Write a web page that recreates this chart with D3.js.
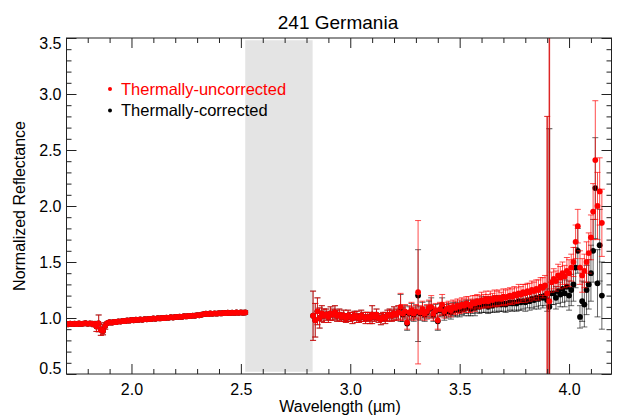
<!DOCTYPE html>
<html><head><meta charset="utf-8">
<script src="https://cdn.jsdelivr.net/npm/d3@7"></script>
<style>
html,body{margin:0;padding:0;background:#fff;}
svg{display:block;font-family:"Liberation Sans",Arial,Helvetica,sans-serif;}
</style></head>
<body>
<svg id="chart" width="619" height="420"></svg>
<script>
// ---------- data ----------
const title = "241 Germania";
const xLabel = "Wavelength (\u00b5m)";
const yLabel = "Normalized Reflectance";
const seriesNames = ["Thermally-uncorrected", "Thermally-corrected"];
const xTicks = [2.0, 2.5, 3.0, 3.5, 4.0];
const xTickLabels = ["2.0", "2.5", "3.0", "3.5", "4.0"];
const xMinor = [1.8,1.9,2.1,2.2,2.3,2.4,2.6,2.7,2.8,2.9,3.1,3.2,3.3,3.4,3.6,3.7,3.8,3.9,4.1];
const yTicks = [0.5, 1.0, 1.5, 2.0, 2.5, 3.0, 3.5];
const yTickLabels = ["0.5", "1.0", "1.5", "2.0", "2.5", "3.0", "3.5"];
const yMinor = [0.6,0.7,0.8,0.9,1.1,1.2,1.3,1.4,1.6,1.7,1.8,1.9,2.1,2.2,2.3,2.4,2.6,2.7,2.8,2.9,3.1,3.2,3.3,3.4];
const gapBand = [2.52, 2.828];

// short-wavelength segment
const wl1 = [1.70,1.71,1.72,1.73,1.74,1.75,1.76,1.77,1.78,1.79,1.80,1.81,1.82,1.83,1.84,1.85,1.86,1.87,1.88,1.89,
1.90,1.91,1.92,1.93,1.94,1.95,1.96,1.97,1.98,1.99,2.00,2.01,2.02,2.03,2.04,2.05,2.06,2.07,2.08,2.09,
2.10,2.11,2.12,2.13,2.14,2.15,2.16,2.17,2.18,2.19,2.20,2.21,2.22,2.23,2.24,2.25,2.26,2.27,2.28,2.29,
2.30,2.31,2.32,2.33,2.34,2.35,2.36,2.37,2.38,2.39,2.40,2.41,2.42,2.43,2.44,2.45,2.46,2.47,2.48,2.49,
2.50,2.51,2.52];
const red1 = [0.948,0.944,0.950,0.946,0.949,0.945,0.951,0.947,0.950,0.953,
0.948,0.952,0.949,0.944,0.925,0.952,0.895,0.885,0.930,0.955,
0.962,0.958,0.966,0.963,0.970,0.968,0.975,0.972,0.978,0.976,
0.982,0.979,0.985,0.983,0.987,0.984,0.990,0.988,0.993,0.990,
0.996,0.993,0.999,0.996,1.001,0.998,1.004,1.002,1.007,1.004,
1.010,1.008,1.013,1.010,1.016,1.014,1.019,1.017,1.022,1.020,
1.026,1.024,1.030,1.035,1.038,1.034,1.040,1.037,1.042,1.039,
1.044,1.041,1.046,1.043,1.047,1.044,1.048,1.045,1.049,1.046,
1.050,1.047,1.049];
const redErr1 = [0.014,0.012,0.014,0.013,0.012,0.014,0.013,0.012,0.014,0.013,
0.014,0.013,0.014,0.022,0.045,0.075,0.050,0.035,0.030,0.014,
0.012,0.014,0.013,0.012,0.014,0.013,0.012,0.014,0.013,0.012,
0.014,0.013,0.012,0.014,0.013,0.012,0.014,0.013,0.012,0.014,
0.013,0.012,0.014,0.013,0.012,0.014,0.013,0.012,0.014,0.013,
0.012,0.014,0.013,0.012,0.014,0.013,0.012,0.014,0.013,0.012,
0.014,0.013,0.012,0.014,0.013,0.012,0.014,0.013,0.012,0.014,
0.013,0.012,0.014,0.013,0.012,0.014,0.013,0.012,0.014,0.013,
0.012,0.014,0.013];
const black1 = red1;      // identical below 2.5 um (no thermal tail)
const blackErr1 = redErr1;

// long-wavelength segment
const wl2 = [2.83,2.84,2.85,2.86,2.87,2.88,2.89,2.90,2.91,2.92,
2.93,2.94,2.95,2.96,2.97,2.98,2.99,3.00,3.01,3.02,
3.03,3.04,3.05,3.06,3.07,3.08,3.09,3.10,3.11,3.12,
3.13,3.14,3.15,3.16,3.17,3.18,3.19,3.20,3.21,3.22,
3.23,3.24,3.25,3.26,3.27,3.28,3.29,3.30,3.31,3.32,
3.33,3.34,3.35,3.36,3.37,3.38,3.39,3.40,3.41,3.42,
3.43,3.44,3.45,3.46,3.47,3.48,3.49,3.50,3.51,3.52,
3.53,3.54,3.55,3.56,3.57,3.58,3.59,3.60,3.61,3.62,
3.63,3.64,3.65,3.66,3.67,3.68,3.69,3.70,3.71,3.72,
3.73,3.74,3.75,3.76,3.77,3.78,3.79,3.80,3.81,3.82,
3.83,3.84,3.85,3.86,3.87,3.88,3.89,3.90,3.91,3.92,
3.93,3.94,3.95,3.96,3.97,3.98,3.99,4.00,4.01,4.02,
4.03,4.04,4.05,4.06,4.07,4.08,4.09,4.10,4.11,4.12,
4.13,4.14,4.15];
const red2 = [1.02,0.98,1.06,1.00,1.04,1.02,1.03,1.01,1.04,1.03,
1.05,1.02,1.03,1.01,1.02,1.00,1.02,1.01,1.00,1.02,
1.01,1.00,1.02,1.01,1.00,1.01,1.00,1.03,1.01,1.03,
1.00,0.99,1.01,1.00,1.02,1.03,1.02,1.04,1.03,1.05,
1.10,1.04,1.06,0.96,1.05,1.07,1.04,1.06,1.23,1.05,
1.08,1.04,1.06,1.09,1.10,1.04,1.07,0.98,1.08,1.12,
1.06,1.08,1.09,1.07,1.10,1.09,1.11,1.10,1.12,1.11,
1.13,1.12,1.11,1.14,1.13,1.15,1.14,1.16,1.15,1.17,
1.15,1.17,1.16,1.18,1.17,1.18,1.17,1.19,1.18,1.19,
1.20,1.19,1.21,1.20,1.22,1.21,1.23,1.22,1.24,1.23,
1.25,1.24,1.26,1.25,1.28,1.27,1.29,1.22,1.15,1.32,
1.35,1.33,1.38,1.36,1.40,1.37,1.42,1.40,1.45,1.50,
1.68,1.82,1.45,1.38,1.42,1.50,1.58,1.72,1.95,2.41,
2.00,2.13,1.85];
const redErr2 = [0.22,0.15,0.12,0.09,0.07,0.06,0.05,0.05,0.06,0.05,
0.06,0.05,0.05,0.04,0.05,0.04,0.05,0.04,0.05,0.04,
0.05,0.04,0.05,0.04,0.05,0.04,0.05,0.08,0.04,0.05,
0.04,0.05,0.04,0.05,0.05,0.05,0.05,0.06,0.05,0.06,
0.12,0.06,0.06,0.06,0.06,0.07,0.06,0.06,0.64,0.06,
0.07,0.06,0.06,0.07,0.10,0.06,0.06,0.08,0.06,0.09,
0.06,0.06,0.06,0.06,0.06,0.06,0.06,0.06,0.06,0.06,
0.06,0.07,0.06,0.06,0.07,0.06,0.06,0.07,0.06,0.07,
0.06,0.07,0.06,0.07,0.07,0.07,0.06,0.07,0.07,0.07,
0.07,0.07,0.07,0.07,0.08,0.07,0.07,0.08,0.07,0.08,
0.08,0.08,0.08,0.09,0.08,0.09,0.09,1.58,2.50,0.09,
0.09,0.09,0.10,0.10,0.10,0.10,0.12,0.12,0.12,0.13,
0.15,0.15,0.15,0.15,0.15,0.18,0.18,0.20,0.25,0.53,
0.30,0.30,0.30];
const black2 = [1.02,0.98,1.06,1.00,1.04,1.02,1.03,1.01,1.04,1.03,
1.05,1.02,1.03,1.01,1.02,1.00,1.02,1.01,1.00,1.02,
1.01,1.00,1.02,1.01,1.00,1.01,1.00,1.03,1.01,1.03,
1.00,0.99,1.01,1.00,1.02,1.03,1.02,1.04,1.03,1.05,
1.09,1.03,1.05,0.95,1.04,1.06,1.03,1.05,1.20,1.04,
1.07,1.03,1.05,1.08,1.09,1.03,1.06,0.97,1.07,1.10,
1.04,1.06,1.07,1.05,1.08,1.07,1.08,1.07,1.09,1.08,
1.10,1.09,1.08,1.10,1.09,1.11,1.10,1.12,1.11,1.12,
1.10,1.12,1.11,1.13,1.12,1.13,1.12,1.13,1.12,1.13,
1.14,1.13,1.14,1.13,1.15,1.14,1.15,1.14,1.16,1.15,
1.17,1.16,1.18,1.17,1.19,1.18,1.20,1.16,1.10,1.22,
1.22,1.18,1.24,1.21,1.26,1.22,1.28,1.20,1.25,1.30,
1.45,1.60,1.01,1.15,1.12,1.25,1.30,1.40,1.60,2.16,
1.31,1.65,1.20];
const blackErr2 = [0.22,0.15,0.12,0.09,0.07,0.06,0.05,0.05,0.06,0.05,
0.06,0.05,0.05,0.04,0.05,0.04,0.05,0.04,0.05,0.04,
0.05,0.04,0.05,0.04,0.05,0.04,0.05,0.08,0.04,0.05,
0.04,0.05,0.04,0.05,0.05,0.05,0.05,0.06,0.05,0.06,
0.12,0.06,0.06,0.06,0.06,0.07,0.06,0.06,0.41,0.06,
0.07,0.06,0.06,0.07,0.09,0.06,0.06,0.08,0.06,0.08,
0.06,0.06,0.06,0.06,0.06,0.06,0.06,0.06,0.06,0.06,
0.06,0.07,0.06,0.06,0.07,0.06,0.06,0.07,0.06,0.07,
0.06,0.07,0.06,0.07,0.07,0.07,0.06,0.07,0.07,0.07,
0.07,0.07,0.07,0.07,0.08,0.07,0.07,0.08,0.07,0.08,
0.08,0.08,0.08,0.09,0.08,0.09,0.09,0.10,1.59,0.10,
0.10,0.10,0.11,0.11,0.12,0.12,0.13,0.13,0.14,0.15,
0.18,0.20,0.10,0.18,0.20,0.22,0.22,0.25,0.28,0.45,
0.30,0.32,0.30];

// ---------- layout ----------
const svg = d3.select("#chart");
const L = 66.5, R = 611.5, T = 38, B = 374;
const x = d3.scaleLinear().domain([1.703, 4.194]).range([L, R]);
const y = d3.scaleLinear().domain([0.5, 3.5]).range([B, T]);

function zip(w, v, e) { return w.map((d, i) => ({w: d, v: v[i], e: e[i]})); }
const blackData = zip(wl1, black1, blackErr1).concat(zip(wl2, black2, blackErr2));
const redData = zip(wl1, red1, redErr1).concat(zip(wl2, red2, redErr2));

svg.append("defs").append("clipPath").attr("id", "clip")
  .append("rect").attr("x", L).attr("y", T).attr("width", R - L).attr("height", B - T);

// gap band
svg.append("rect")
  .attr("x", x(gapBand[0])).attr("width", x(gapBand[1]) - x(gapBand[0]))
  .attr("y", y(3.48)).attr("height", y(0.52) - y(3.48))
  .attr("fill", "#e4e4e4");

const plot = svg.append("g").attr("clip-path", "url(#clip)");

function drawSeries(data, errColor, bigErrColor, dotColor) {
  const g = plot.append("g");
  const eb = g.append("g").attr("fill", "none");
  const col = d => d.e > 1 ? bigErrColor : errColor;
  const sw = d => d.e > 1 ? 1.5 : 1;
  eb.selectAll("line.v").data(data).join("line")
    .attr("stroke", col).attr("stroke-width", sw)
    .attr("x1", d => x(d.w)).attr("x2", d => x(d.w))
    .attr("y1", d => y(d.v - d.e)).attr("y2", d => y(d.v + d.e));
  eb.selectAll("line.t").data(data).join("line")
    .attr("stroke", col)
    .attr("x1", d => x(d.w) - 3).attr("x2", d => x(d.w) + 3)
    .attr("y1", d => y(d.v + d.e)).attr("y2", d => y(d.v + d.e));
  eb.selectAll("line.b").data(data).join("line")
    .attr("stroke", col)
    .attr("x1", d => x(d.w) - 3).attr("x2", d => x(d.w) + 3)
    .attr("y1", d => y(d.v - d.e)).attr("y2", d => y(d.v - d.e));
  g.append("g").attr("fill", dotColor).selectAll("circle").data(data).join("circle")
    .attr("cx", d => x(d.w)).attr("cy", d => y(d.v)).attr("r", 2.9);
}
drawSeries(blackData, "rgba(0,0,0,0.6)", "rgba(0,0,0,0.7)", "#000");
drawSeries(redData, "rgba(255,0,0,0.7)", "rgba(215,0,0,0.85)", "#ff0000");

// ---------- axes ----------
const axisColor = "#222";
function styleAxis(g) {
  g.select(".domain").remove();
  g.selectAll("line").attr("stroke", axisColor);
  g.selectAll("text").attr("fill", "#000").style("font-size", "16px")
    .style("font-family", '"Liberation Sans",Arial,sans-serif');
}
svg.append("rect").attr("x", L).attr("y", T).attr("width", R - L).attr("height", B - T)
  .attr("fill", "none").attr("stroke", axisColor).attr("stroke-width", 1);

svg.append("g").attr("transform", `translate(0,${B})`)
  .call(d3.axisBottom(x).tickValues(xTicks).tickFormat((d, i) => xTickLabels[i]).tickSize(-10).tickPadding(10))
  .call(styleAxis);
svg.append("g").attr("transform", `translate(0,${B})`)
  .call(d3.axisBottom(x).tickValues(xMinor).tickFormat("").tickSize(-5)).call(styleAxis);
svg.append("g").attr("transform", `translate(0,${T})`)
  .call(d3.axisTop(x).tickValues(xTicks).tickFormat("").tickSize(-10)).call(styleAxis);
svg.append("g").attr("transform", `translate(0,${T})`)
  .call(d3.axisTop(x).tickValues(xMinor).tickFormat("").tickSize(-5)).call(styleAxis);

const yAx = svg.append("g").attr("transform", `translate(${L},0)`)
  .call(d3.axisLeft(y).tickValues(yTicks).tickFormat((d, i) => yTickLabels[i]).tickSize(-10).tickPadding(5))
  .call(styleAxis);
yAx.selectAll(".tick text").attr("dy", (d) => d === 3.5 ? "0.68em" : d === 0.5 ? "-0.02em" : "0.32em");
svg.append("g").attr("transform", `translate(${L},0)`)
  .call(d3.axisLeft(y).tickValues(yMinor).tickFormat("").tickSize(-5)).call(styleAxis);
svg.append("g").attr("transform", `translate(${R},0)`)
  .call(d3.axisRight(y).tickValues(yTicks).tickFormat("").tickSize(-10)).call(styleAxis);
svg.append("g").attr("transform", `translate(${R},0)`)
  .call(d3.axisRight(y).tickValues(yMinor).tickFormat("").tickSize(-5)).call(styleAxis);

// ---------- titles ----------
svg.append("text").attr("x", 338).attr("y", 29).attr("text-anchor", "middle")
  .style("font-size", "19px").attr("fill", "#000").text(title);
svg.append("text").attr("x", 340).attr("y", 412).attr("text-anchor", "middle")
  .style("font-size", "16px").attr("fill", "#000").text(xLabel);
svg.append("text").attr("transform", `translate(25,${(T + B) / 2}) rotate(-90)`)
  .attr("text-anchor", "middle").style("font-size", "16px").attr("fill", "#000").text(yLabel);

// ---------- legend ----------
const legColors = ["#ff0000", "#000000"];
const leg = svg.append("g");
seriesNames.forEach((name, i) => {
  const cy = 89 + i * 21.5;
  leg.append("circle").attr("cx", 110).attr("cy", cy).attr("r", 2).attr("fill", legColors[i]);
  leg.append("text").attr("x", 121).attr("y", cy + 5.5).style("font-size", "16.5px")
    .attr("fill", legColors[i]).text(name);
});
</script>
</body></html>
